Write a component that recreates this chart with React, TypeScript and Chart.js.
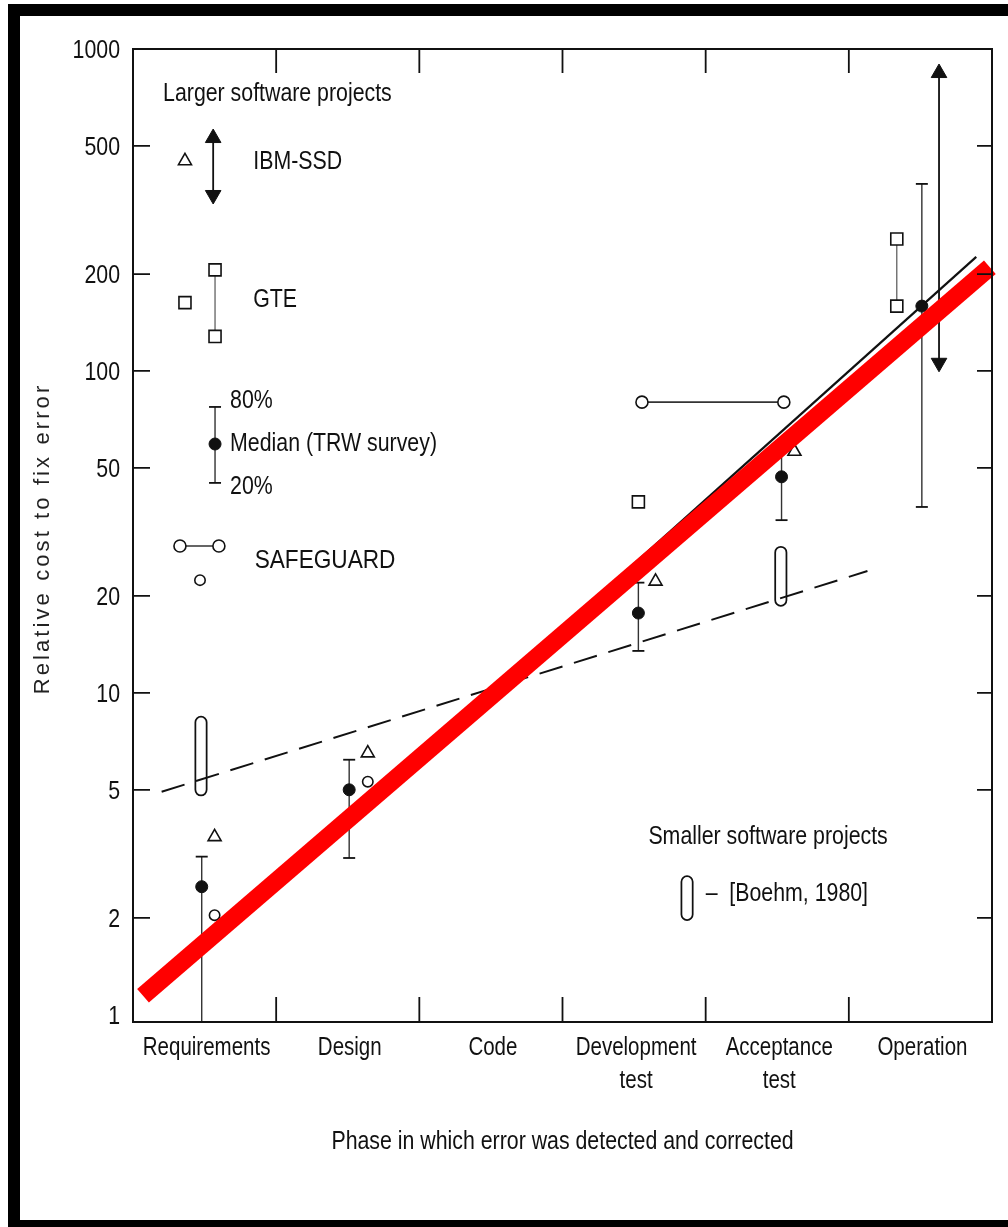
import React, { useEffect, useRef } from "react";
import { Chart, registerables } from "chart.js";
Chart.register(...registerables);

const FAMILY = '"Liberation Sans", Arial, sans-serif';
const NARROW = 0.82; // horizontal squeeze to mimic a narrow face
const INK = "#111";

// axes
const phases: (string | string[])[] = ["Requirements", "Design", "Code", ["Development", "test"], ["Acceptance", "test"], "Operation"];
const phasePos = [0, 1, 2, 3, 4, 5];
const phaseBounds = [0.5, 1.5, 2.5, 3.5, 4.5];
const yTickValues = [1, 2, 5, 10, 20, 50, 100, 200, 500, 1000];
const Y_MIN = 0.95;
const Y_MAX = 1000;
const X_MIN = -0.5;
const X_MAX = 5.5;

// TRW survey: median with 20% / 80% range
const trwX = [-0.02, 1.01, 3.03, 4.03, 5.01];
const trwMedian = [2.5, 5.0, 17.7, 46.9, 159];
const trw20 = [0.95, 3.07, 13.5, 34.4, 37.8];
const trw80 = [3.1, 6.2, 22, 58, 381];

// IBM-SSD
const ibmX = [0.07, 1.14, 3.15, 4.12];
const ibmY = [3.57, 6.5, 22.2, 56.2];
const ibmRangeX = [5.13];
const ibmRangeLow = [106];
const ibmRangeHigh = [842];

// SAFEGUARD
const sgX = [0.07, 1.14];
const sgY = [2.04, 5.3];
const sgPairX1 = [3.055];
const sgPairX2 = [4.046];
const sgPairY = [80];

// GTE
const gteX = [3.03];
const gteY = [39.2];
const gtePairX = [4.835];
const gtePairLow = [159];
const gtePairHigh = [257];

// Smaller software projects [Boehm, 1980]
const boehmX = [-0.025, 4.025];
const boehmLow = [5.0, 19.4];
const boehmHigh = [8.1, 27.3];

// trend lines
const trendRedX = [-0.43, 5.485];
const trendRedY = [1.146, 210];
const trendTrwX = [0, 5.39];
const trendTrwY = [1.6, 226];
const trendSmallX = [-0.3, 4.63];
const trendSmallY = [4.93, 23.9];

// key symbols (in chart coordinates)
const keyTriX = [-0.137];
const keyTriY = [449];
const keyArrowX = [0.06];
const keyArrowLow = [352];
const keyArrowHigh = [529];
const keySqX = [-0.137];
const keySqY = [163];
const keySqPairX = [0.073];
const keySqPairLow = [128];
const keySqPairHigh = [206];
const keyMedX = [0.073];
const keyMedY = [59.3];
const keyMed20 = [44.9];
const keyMed80 = [77.3];
const keyCirPairX1 = [-0.172];
const keyCirPairX2 = [0.1];
const keyCirPairY = [28.6];
const keyCirX = [-0.032];
const keyCirY = [22.4];
const keyCapX = [3.37];
const keyCapLow = [2.05];
const keyCapHigh = [2.59];

// annotations
const noteText = ["Larger software projects", "IBM-SSD", "GTE", "80%", "Median (TRW survey)", "20%", "SAFEGUARD", "Smaller software projects", "\u2013  [Boehm, 1980]"];
const noteX = [-0.29, 0.34, 0.34, 0.178, 0.178, 0.178, 0.35, 3.1, 3.5];
const noteY = [728, 446, 166, 80.7, 59.3, 43.6, 25.7, 3.57, 2.37];

const xTitle = "Phase in which error was detected and corrected";
const yTitle = "Relative cost to fix error";

type P = { x: number; y: number | null; cap?: boolean; rot?: number };

function pts(xs: number[], ys: number[]): P[] {
  return xs.map((x, i) => ({ x, y: ys[i] }));
}
function vsegs(xs: number[], lo: number[], hi: number[]): P[] {
  const out: P[] = [];
  xs.forEach((x, i) => {
    out.push({ x, y: lo[i], cap: lo[i] > Y_MIN, rot: 180 });
    out.push({ x, y: hi[i], cap: true, rot: 0 });
    out.push({ x, y: null });
  });
  return out;
}
function hsegs(x1: number[], x2: number[], ys: number[]): P[] {
  const out: P[] = [];
  ys.forEach((y, i) => {
    out.push({ x: x1[i], y });
    out.push({ x: x2[i], y });
    out.push({ x: x2[i], y: null });
  });
  return out;
}

function drawText(ctx: CanvasRenderingContext2D, text: string, x: number, y: number, size: number, align: CanvasTextAlign, sx = NARROW) {
  ctx.save();
  ctx.font = `${size}px ${FAMILY}`;
  ctx.textBaseline = "middle";
  ctx.textAlign = align;
  ctx.fillStyle = INK;
  ctx.translate(x, y);
  ctx.scale(sx, 1);
  ctx.fillText(text, 0, 0);
  ctx.restore();
}

const framePlugin = {
  id: "frame",
  afterDatasetsDraw(chart: any) {
    const { ctx, chartArea: a, scales } = chart;
    const xs = scales.x;
    const ys = scales.y;
    ctx.save();
    ctx.strokeStyle = INK;
    ctx.lineWidth = 2;
    ctx.strokeRect(a.left, a.top, a.right - a.left, a.bottom - a.top);
    ctx.lineWidth = 1.8;
    ctx.beginPath();
    yTickValues.forEach((v) => {
      if (v <= 1 || v >= 1000) return;
      const py = ys.getPixelForValue(v);
      ctx.moveTo(a.left, py);
      ctx.lineTo(a.left + 17, py);
      ctx.moveTo(a.right - 15, py);
      ctx.lineTo(a.right, py);
    });
    phaseBounds.forEach((v) => {
      const px = xs.getPixelForValue(v);
      ctx.moveTo(px, a.bottom);
      ctx.lineTo(px, a.bottom - 25);
      ctx.moveTo(px, a.top);
      ctx.lineTo(px, a.top + 24);
    });
    ctx.stroke();
    ctx.restore();
  },
  afterDraw(chart: any) {
    const { ctx, chartArea: a, scales } = chart;
    const xs = scales.x;
    const ys = scales.y;
    // y tick labels
    yTickValues.forEach((v) => {
      drawText(ctx, String(v), a.left - 13, ys.getPixelForValue(v) + 2, 26, "right");
    });
    // x tick labels
    phasePos.forEach((p) => {
      const lab = phases[p];
      const lines = Array.isArray(lab) ? lab : [lab];
      lines.forEach((t, k) => {
        drawText(ctx, t, xs.getPixelForValue(p) + 2, a.bottom + 26 + k * 33, 25, "center");
      });
    });
    // annotations
    noteText.forEach((t, i) => {
      drawText(ctx, t, xs.getPixelForValue(noteX[i]), ys.getPixelForValue(noteY[i]), 26, "left", t === "SAFEGUARD" ? 0.87 : NARROW);
    });
    // x title
    drawText(ctx, xTitle, (a.left + a.right) / 2, a.bottom + 120, 26, "center");
    // y title
    ctx.save();
    ctx.translate(43, (a.top + a.bottom) / 2 + 3);
    ctx.rotate(-Math.PI / 2);
    ctx.font = `22px ${FAMILY}`;
    (ctx as any).letterSpacing = "3.1px";
    ctx.fillStyle = "#222";
    ctx.textAlign = "center";
    ctx.textBaseline = "middle";
    ctx.fillText(yTitle, 0, 0);
    ctx.restore();
  },
};

export default function App() {
  const ref = useRef<HTMLCanvasElement>(null);
  useEffect(() => {
    const open = { pointBackgroundColor: "#fff", pointBorderColor: INK, pointBorderWidth: 1.6, showLine: false };
    const chart = new Chart(ref.current as HTMLCanvasElement, {
      type: "scatter",
      data: {
        datasets: [
          { label: "red", data: pts(trendRedX, trendRedY), showLine: true, borderColor: "#ff0000", borderWidth: 18, borderCapStyle: "butt", pointRadius: 0, order: 0, clip: false } as any,
          { label: "trw trend", data: pts(trendTrwX, trendTrwY), showLine: true, borderColor: INK, borderWidth: 2.2, pointRadius: 0, order: 1 },
          { label: "small trend", data: pts(trendSmallX, trendSmallY), showLine: true, borderColor: INK, borderWidth: 2, borderDash: [24, 12], pointRadius: 0, order: 2 },
          {
            label: "trw range",
            data: [...vsegs(trwX, trw20, trw80), ...vsegs(keyMedX, keyMed20, keyMed80)],
            showLine: true, borderColor: "#333", borderWidth: 1.4, spanGaps: false,
            pointStyle: "line", pointBorderColor: INK, pointBorderWidth: 1.8,
            pointRadius: (c: any) => (c.raw && c.raw.cap ? 6 : 0), order: 4,
          } as any,
          { label: "trw median", data: [...pts(trwX, trwMedian), ...pts(keyMedX, keyMedY)], pointStyle: "circle", pointRadius: 6, pointBackgroundColor: INK, pointBorderColor: INK, order: 3 },
          { label: "ibm", data: [...pts(ibmX, ibmY), ...pts(keyTriX, keyTriY)], pointStyle: "triangle", pointRadius: 7.5, ...open, order: 3 },
          {
            label: "ibm range",
            data: [...vsegs(ibmRangeX, ibmRangeLow, ibmRangeHigh), ...vsegs(keyArrowX, keyArrowLow, keyArrowHigh)],
            showLine: true, borderColor: INK, borderWidth: 1.8, spanGaps: false,
            pointStyle: "triangle", pointRadius: (c: any) => (c.raw && c.raw.y != null ? 9 : 0),
            pointRotation: (c: any) => (c.raw && c.raw.rot) || 0,
            pointBackgroundColor: INK, pointBorderColor: INK, pointBorderWidth: 1, order: 4,
          } as any,
          { label: "safeguard", data: [...pts(sgX, sgY), ...pts(keyCirX, keyCirY)], pointStyle: "circle", pointRadius: 5.2, ...open, order: 3 },
          {
            label: "safeguard range",
            data: [...hsegs(sgPairX1, sgPairX2, sgPairY), ...hsegs(keyCirPairX1, keyCirPairX2, keyCirPairY)],
            pointStyle: "circle", pointRadius: (c: any) => (c.raw && c.raw.y != null ? 6 : 0), ...open,
            showLine: true, borderColor: "#333", borderWidth: 1.6, spanGaps: false, order: 3,
          } as any,
          { label: "gte", data: [...pts(gteX, gteY), ...pts(keySqX, keySqY)], pointStyle: "rect", pointRadius: 8.5, ...open, order: 3 },
          {
            label: "gte range",
            data: [...vsegs(gtePairX, gtePairLow, gtePairHigh), ...vsegs(keySqPairX, keySqPairLow, keySqPairHigh)],
            pointStyle: "rect", pointRadius: (c: any) => (c.raw && c.raw.y != null ? 8.5 : 0), ...open,
            pointRotation: 0,
            showLine: true, borderColor: "#555", borderWidth: 1.2, spanGaps: false, order: 3,
          } as any,
          {
            label: "boehm inner",
            data: [...vsegs(boehmX, boehmLow, boehmHigh), ...vsegs(keyCapX, keyCapLow, keyCapHigh)],
            showLine: true, borderColor: "#fff", borderWidth: 9.5, borderCapStyle: "round", pointRadius: 0, spanGaps: false, order: 5,
          } as any,
          {
            label: "boehm outer",
            data: [...vsegs(boehmX, boehmLow, boehmHigh), ...vsegs(keyCapX, keyCapLow, keyCapHigh)],
            showLine: true, borderColor: INK, borderWidth: 13, borderCapStyle: "round", pointRadius: 0, spanGaps: false, order: 6,
          } as any,
        ],
      },
      options: {
        animation: false,
        responsive: false,
        maintainAspectRatio: false,
        events: [],
        layout: { padding: { top: 49, right: 16, left: 0, bottom: 0 } },
        plugins: { legend: { display: false }, tooltip: { enabled: false } },
        scales: {
          x: {
            type: "linear",
            min: X_MIN,
            max: X_MAX,
            grid: { display: false, drawTicks: false },
            border: { display: false },
            afterBuildTicks: (s: any) => {
              s.ticks = phasePos.map((v) => ({ value: v }));
            },
            afterFit: (s: any) => {
              s.height = 205;
            },
            ticks: { display: false },
          },
          y: {
            type: "logarithmic",
            min: Y_MIN,
            max: Y_MAX,
            grid: { display: false, drawTicks: false },
            border: { display: false },
            afterBuildTicks: (s: any) => {
              s.ticks = yTickValues.map((v) => ({ value: v }));
            },
            afterFit: (s: any) => {
              s.width = 133;
            },
            ticks: { display: false },
          },
        },
      } as any,
      plugins: [framePlugin],
    });
    return () => chart.destroy();
  }, []);
  return (
    <div style={{ position: "fixed", left: 0, top: 0, width: 1008, height: 1227, overflow: "hidden", background: "#fff" }}>
      <div style={{ position: "absolute", left: 8, top: 4, width: 1100, height: 1228, border: "12px solid #000", boxSizing: "border-box" }} />
      <canvas ref={ref} width={1008} height={1227} style={{ position: "absolute", left: 0, top: 0, width: 1008, height: 1227 }} />
    </div>
  );
}
